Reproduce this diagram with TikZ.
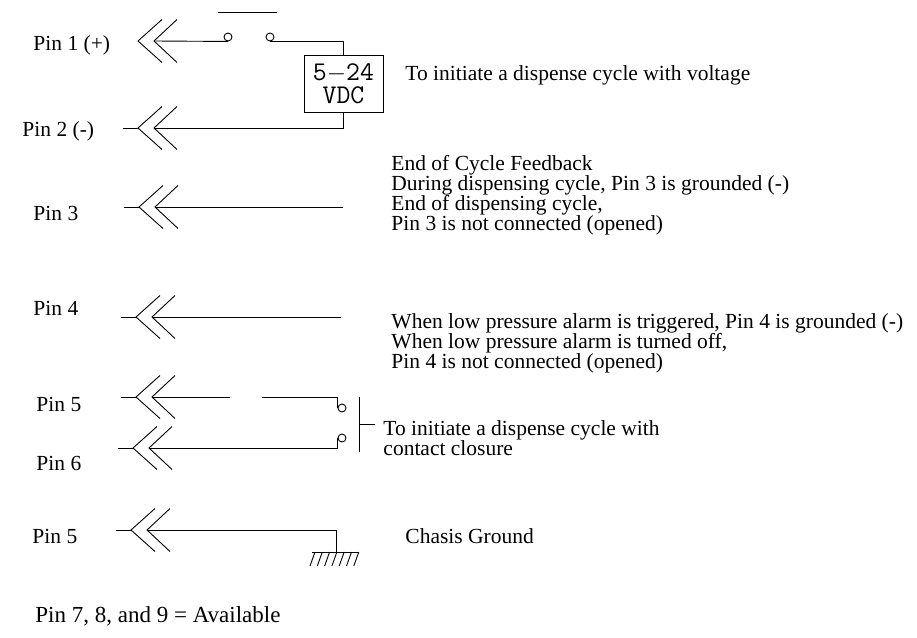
\documentclass[tikz,border=0pt]{standalone}
\usepackage{fontspec}
\setmainfont{Liberation Serif}
\begin{document}
\begin{tikzpicture}[x=1pt, y=-1pt, line width=0.9pt,
    plug/.pic={
        \draw (24,-21.5) -- (0,0) -- (24,21.5);
        \draw (39,-21.5) -- (16,0) -- (39,21.5);
        \coordinate (-tip) at (0,0);
        \coordinate (-in) at (16,0);
        \coordinate (-tail) at (-15,0);
    },
    lbl/.style={inner sep=0pt, anchor=base west, font=\fontsize{21.5}{20}\selectfont},
    blk/.style={lbl, align=left},
    contact/.style={circle, draw, inner sep=0pt, minimum size=8pt}]
    \useasboundingbox (0,0) rectangle (917,637);
    % pin labels
    \node[lbl] (l1) at (33,50) {Pin 1 (+)};
    \node[lbl] (l2) at (22,136) {Pin 2 (-)};
    \node[lbl] (l3) at (33,220) {Pin 3};
    \node[lbl] (l4) at (33,315) {Pin 4};
    \node[lbl] (l5) at (36,411) {Pin 5};
    \node[lbl] (l6) at (36,470) {Pin 6};
    \node[lbl] (l7) at (32,543) {Pin 5};
    \node[lbl, font=\fontsize{23}{20}\selectfont] (l8) at (35,622) {Pin 7, 8, and 9 = Available};
    % connectors
    \pic (p1) at (138,41) {plug};
    \pic (p2) at (138,128) {plug};
    \pic (p3) at (139,207) {plug};
    \pic (p4) at (136,317) {plug};
    \pic (p5) at (136,397) {plug};
    \pic (p6) at (133,448) {plug};
    \pic (p7) at (131,530) {plug};
    \foreach \p in {p2,p3,p4,p5,p6,p7}
        \draw (\p-tail) -- (\p-tip);
    % pin 1 / pin 2: voltage
    \node[contact] (s1a) at (228,37) {};
    \node[contact] (s1b) at (270,37) {};
    \draw (218,12) -- (277,12);
    \node[draw, minimum width=79pt, minimum height=57pt, align=center, inner sep=0pt,
        font=\fontsize{27}{23}\selectfont\ttfamily] (vdc) at (343.5,83.5) {5$-$24\\VDC};
    \draw (p1-in) -- (s1a.south);
    \draw (s1b.south) -| (vdc.north);
    \draw (vdc.south) |- (p2-in);
    \node[lbl] (t1) at (405,80) {To initiate a dispense cycle with voltage};
    % pin 3, pin 4
    \coordinate (e3) at (343,207);
    \coordinate (e4) at (341,317);
    \draw (p3-in) -- (e3);
    \draw (p4-in) -- (e4);
    \node[blk] (t3) at (391,230) {End of Cycle Feedback\\During dispensing cycle, Pin 3 is grounded (-)\\End of dispensing cycle,\\Pin 3 is not connected (opened)};
    \node[blk] (t4) at (391,368) {When low pressure alarm is triggered, Pin 4 is grounded (-)\\When low pressure alarm is turned off,\\Pin 4 is not connected (opened)};
    % pin 5 / pin 6: contact closure
    \node[contact] (s5) at (342,408) {};
    \node[contact] (s6) at (342,438) {};
    \coordinate (g5a) at (230,397);
    \coordinate (g5b) at (262,397);
    \draw (p5-in) -- (g5a);
    \draw (g5b) -| (s5.west);
    \draw (p6-in) -| (s6.west);
    \draw (359,397) -- (359,452);
    \coordinate (bar) at (359,424);
    \draw (bar) -- ++(16,0);
    \node[blk] (t5) at (383,455) {To initiate a dispense cycle with\\contact closure};
    % chassis ground
    \coordinate (gnd) at (336,552);
    \draw (p7-in) -| (gnd);
    \draw (312,552) -- (359,552);
    \foreach \i in {0,...,6}
        \draw (315+7.3*\i,552) -- ++(-5,14);
    \node[lbl] (t7) at (405,543) {Chasis Ground};
\end{tikzpicture}
\end{document}
